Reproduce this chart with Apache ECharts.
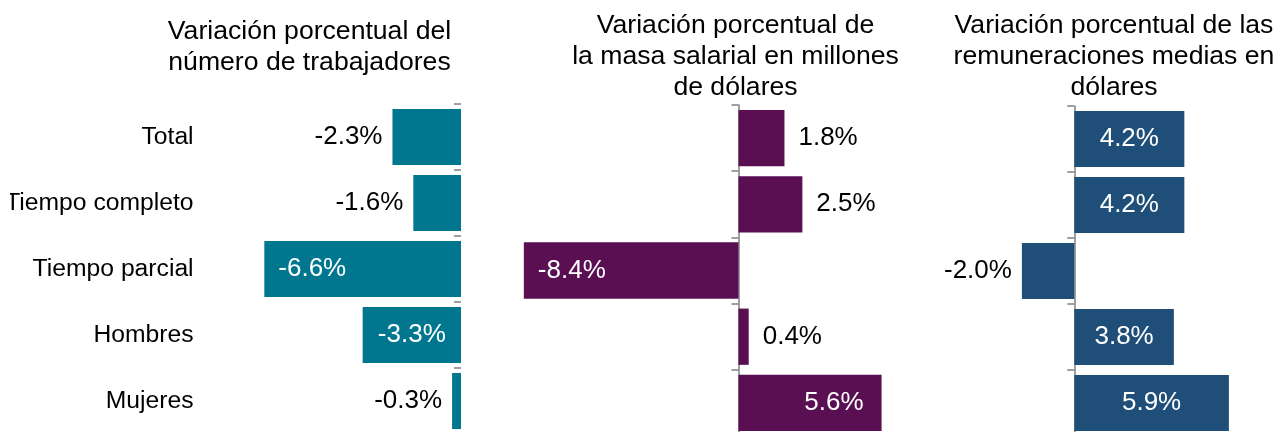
<!DOCTYPE html>
<html lang="es">
<head>
	<meta charset="UTF-8">
	<title>Variación porcentual</title>
	<script src="https://cdn.jsdelivr.net/npm/echarts@6/dist/echarts.min.js"></script>
	<style>
		body { margin: 0; background: #fff; }
		#main { position: absolute; left: 10px; top: 0; width: 1272px; height: 432px; }
	</style>
</head>
<body>
	<div id="main"></div>
	<script>
		// datos
		var categorias = ['Total', 'Tiempo completo', 'Tiempo parcial', 'Hombres', 'Mujeres'];
		var trabajadores = [-2.3, -1.6, -6.6, -3.3, -0.3];
		var masaSalarial = [1.8, 2.5, -8.4, 0.4, 5.6];
		var remuneraciones = [4.2, 4.2, -2.0, 3.8, 5.9];
		var titulos = [
			'Variación porcentual del\nnúmero de trabajadores',
			'Variación porcentual de\nla masa salarial en millones\nde dólares',
			'Variación porcentual de las\nremuneraciones medias en\ndólares'
		];

		// donde va cada etiqueta
		var pos1 = ['left', 'left', 'insideLeft', 'inside', 'left'];
		var pos2 = ['right', 'right', 'insideLeft', 'right', 'insideRight'];
		var pos3 = ['inside', 'inside', 'left', 'inside', 'inside'];
		var distancia = { left: 10, right: 14, insideLeft: 14, insideRight: 18, inside: 0 };

		var fuente = "'Liberation Sans', Arial, sans-serif";
		var gris = '#808080';

		var myChart = echarts.init(document.getElementById('main'));

		function titulo(texto, x, y) {
			return {
				text: texto,
				left: x,
				top: y,
				padding: 0,
				textAlign: 'center',
				textStyle: {
					fontFamily: fuente,
					fontSize: 26.6,
					fontWeight: 'normal',
					color: '#000',
					lineHeight: 31
				}
			};
		}

		function serie(valores, posiciones, color, xi, yi) {
			return {
				type: 'bar',
				xAxisIndex: xi,
				yAxisIndex: yi,
				barCategoryGap: '15%',
				itemStyle: { color: color },
				label: {
					show: true,
					fontFamily: fuente,
					fontSize: 26,
					formatter: function (p) { return p.value.toFixed(1) + '%'; }
				},
				data: valores.map(function (v, i) {
					var pos = posiciones[i];
					return {
						value: v,
						label: {
							position: pos,
							distance: distancia[pos],
							color: pos.indexOf('inside') === 0 ? '#fff' : '#000'
						}
					};
				})
			};
		}

		function ejeCero(gi) {
			return {
				type: 'category',
				gridIndex: gi,
				data: categorias,
				inverse: true,
				axisLine: { show: true, onZero: true, lineStyle: { color: gris, width: 1.5 } },
				axisTick: { show: true, length: 7, lineStyle: { color: gris, width: 1.5 } },
				axisLabel: { show: false }
			};
		}

		var option = {
			animation: false,
			title: [
				titulo(titulos[0], 299.5, 16),
				titulo(titulos[1], 725.5, 10),
				titulo(titulos[2], 1104, 10)
			],
			grid: [
				{ left: 212.6, width: 238.4, top: 104, height: 330, containLabel: false, outerBoundsMode: 'none' },
				{ left: 498.5, width: 383.3, top: 105, height: 331, containLabel: false, outerBoundsMode: 'none' },
				{ left: 985.7, width: 262, top: 106, height: 330, containLabel: false, outerBoundsMode: 'none' }
			],
			xAxis: [
				{ type: 'value', gridIndex: 0, min: -8, max: 0, show: false },
				{ type: 'value', gridIndex: 1, min: -9, max: 6, show: false },
				{ type: 'value', gridIndex: 2, min: -3, max: 7, show: false }
			],
			yAxis: [
				{
					type: 'category',
					gridIndex: 0,
					position: 'left',
					data: categorias,
					inverse: true,
					axisLine: { show: false, onZero: false },
					axisTick: { show: false },
					axisLabel: { fontFamily: fuente, fontSize: 24.7, color: '#000', margin: 29 }
				},
				{
					type: 'category',
					gridIndex: 0,
					position: 'right',
					data: categorias,
					inverse: true,
					axisLine: { show: false, onZero: false },
					axisTick: { show: true, inside: true, length: 7, lineStyle: { color: gris, width: 1.5 } },
					axisLabel: { show: false }
				},
				ejeCero(1),
				ejeCero(2)
			],
			series: [
				serie(trabajadores, pos1, '#00778F', 0, 0),
				serie(masaSalarial, pos2, '#5B0F53', 1, 2),
				serie(remuneraciones, pos3, '#1F4E79', 2, 3)
			]
		};

		myChart.setOption(option);
	</script>
</body>
</html>
